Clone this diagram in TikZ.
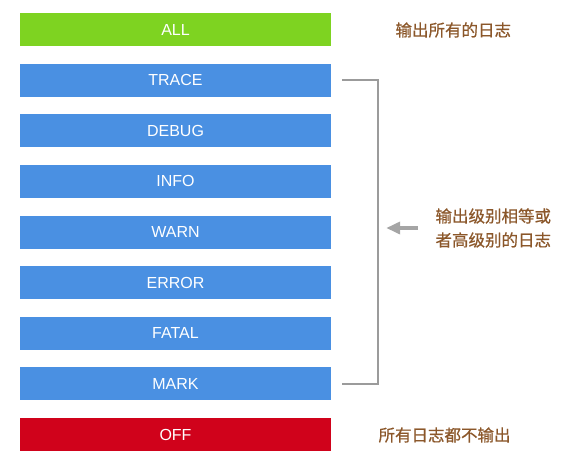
\documentclass[tikz,border=0pt]{standalone}
\usepackage{fontspec}
\setmainfont{Liberation Sans}
\newfontfamily\cjk[FakeBold=0.6]{Noto Sans CJK SC}
\usetikzlibrary{positioning,arrows.meta}
\definecolor{levelgreen}{RGB}{126,211,33}
\definecolor{levelblue}{RGB}{74,144,226}
\definecolor{levelred}{RGB}{208,2,27}
\definecolor{notebrown}{RGB}{139,87,42}
\definecolor{bracketgray}{RGB}{155,155,155}

\begin{document}
\begin{tikzpicture}[x=1pt,y=-1pt,
    level/.style={minimum width=311pt,minimum height=33pt,inner sep=0pt,
      text=white,font=\fontsize{16}{19}\selectfont},
    note/.style={anchor=west,text=notebrown,align=left,
      font=\cjk\fontsize{16.5}{24}\selectfont}]
  \useasboundingbox (0,0) rectangle (570,456);
  % The levels, from ALL down to OFF.
  \node[level,fill=levelgreen] (all) at (175.5,29.5) {ALL};
  \foreach \i/\nm/\lab in {1/trace/TRACE,2/debug/DEBUG,3/info/INFO,
      4/warn/WARN,5/error/ERROR,6/fatal/FATAL,7/mark/MARK}{
    \node[level,fill=levelblue] (\nm) at (175.5,29.5+50.625*\i) {\lab};
  }
  \node[level,fill=levelred] (off) at (175.5,434.5) {OFF};

  % Notes on the right.
  \node[note] (allnote) at (392,30) {输出所有的日志};
  \node[note] (offnote) at (375,435) {所有日志都不输出};
  \node[note] (levelnote) at (432,228) {输出级别相等或\\者高级别的日志};

  % Bracket over TRACE .. MARK and the arrow to it.
  \draw[bracketgray,line width=1.6pt]
    ([xshift=11pt]trace.east) -- ++(36,0) coordinate (brtop)
    |- ([xshift=11pt]mark.east);
  \draw[bracketgray!90,line width=3.5pt,
      -{Triangle[length=14pt,width=12pt]}]
    ([xshift=-14pt]levelnote.west) -- ([xshift=8pt]brtop|-levelnote.west);
\end{tikzpicture}
\end{document}
